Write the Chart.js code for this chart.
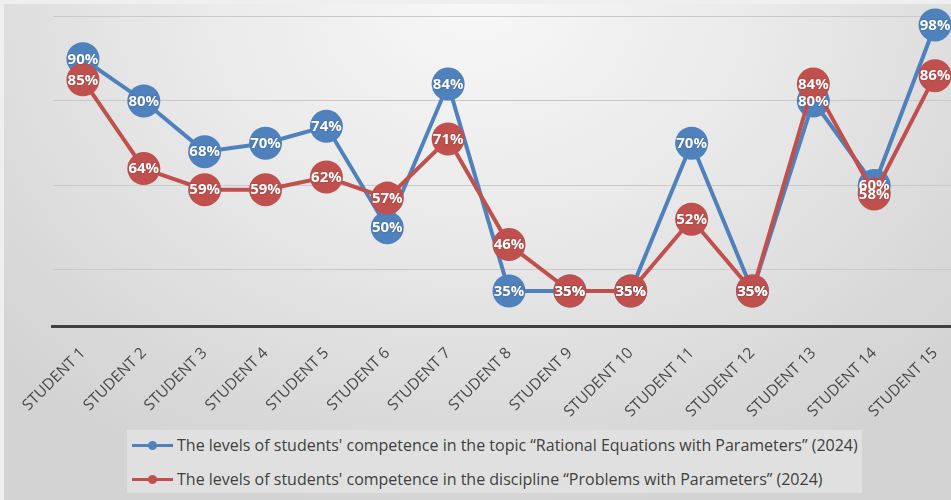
<!DOCTYPE html>
<html>
<head>
<meta charset="utf-8">
<script src="https://cdn.jsdelivr.net/npm/chart.js@4.4.1/dist/chart.umd.min.js"></script>
<style>
  html, body { margin:0; padding:0; }
  body { width:951px; height:500px; overflow:hidden; position:relative; background:#efefef; }
  #bg { position:absolute; left:4px; top:4px; width:947px; height:496px;
        background: radial-gradient(ellipse 70% 105% at 50% 0%, #f7f7f7 0%, #e9e9e9 45%, #dadada 80%, #d3d3d3 100%); }
  #wrap { position:absolute; left:0; top:0; width:982px; height:500px; }
  #legend { position:absolute; left:127px; top:430px; width:735px; height:63px; background:#e0e0e0;
            font-family:"Open Sans", sans-serif; font-size:16px; color:#404040; }
  .item { position:absolute; left:5px; height:20px; display:flex; align-items:center; white-space:nowrap; }
  .sw { position:relative; width:41px; height:20px; margin-right:4px; }
  .sw .ln { position:absolute; left:0; top:8.5px; width:41px; height:3px; }
  .sw .dt { position:absolute; left:16px; top:5.5px; width:9px; height:9px; border-radius:50%; }
</style>
</head>
<body>
<div id="bg"></div>
<div id="wrap"><canvas id="c"></canvas></div>
<div id="legend"></div>
<script>
const categories = ["STUDENT 1","STUDENT 2","STUDENT 3","STUDENT 4","STUDENT 5","STUDENT 6","STUDENT 7","STUDENT 8","STUDENT 9","STUDENT 10","STUDENT 11","STUDENT 12","STUDENT 13","STUDENT 14","STUDENT 15"];
const topicLevels = [90, 80, 68, 70, 74, 50, 84, 35, 35, 35, 70, 35, 80, 60, 98];
const disciplineLevels = [85, 64, 59, 59, 62, 57, 71, 46, 35, 35, 52, 35, 84, 58, 86];
const seriesNames = [
  "The levels of students' competence in the topic \u201cRational Equations with Parameters\u201d (2024)",
  "The levels of students' competence in the discipline \u201cProblems with Parameters\u201d (2024)"
];
const yGridTicks = [40, 60, 80, 100];

const BLUE = '#4f81bd', RED = '#c0504d';

const pointLabels = {
  id: 'pointLabels',
  afterDatasetsDraw(chart) {
    const ctx = chart.ctx;
    ctx.save();
    ctx.font = 'bold 15px "Open Sans"';
    ctx.fillStyle = '#ffffff';
    ctx.textAlign = 'center';
    ctx.textBaseline = 'middle';
    ctx.shadowColor = 'rgba(0,0,0,0.35)';
    ctx.shadowBlur = 1.5;
    chart.data.datasets.forEach((ds, i) => {
      const meta = chart.getDatasetMeta(i);
      meta.data.forEach((pt, j) => {
        ctx.fillText(ds.data[j] + '%', pt.x, pt.y + 0.5);
      });
    });
    ctx.restore();
  }
};

const chart = new Chart(document.getElementById('c'), {
  type: 'line',
  data: {
    labels: categories,
    datasets: [
      { label: seriesNames[0], data: topicLevels, borderColor: BLUE, backgroundColor: BLUE,
        pointBackgroundColor: BLUE, pointBorderColor: BLUE, borderWidth: 4, pointRadius: 16.5,
        pointBorderWidth: 0, tension: 0, clip: false, order: 1 },
      { label: seriesNames[1], data: disciplineLevels, borderColor: RED, backgroundColor: RED,
        pointBackgroundColor: RED, pointBorderColor: RED, borderWidth: 4, pointRadius: 16.5,
        pointBorderWidth: 0, tension: 0, clip: false, order: 0 }
    ]
  },
  options: {
    responsive: true,
    maintainAspectRatio: false,
    animation: false,
    events: [],
    layout: { padding: { left: 52.5, right: 0, top: 16.5, bottom: 61 } },
    plugins: { legend: { display: false }, tooltip: { enabled: false } },
    scales: {
      x: {
        offset: true,
        grid: { display: true, color: 'transparent', drawTicks: false },
        border: { display: true, color: '#404040', width: 3 },
        ticks: { minRotation: 45, maxRotation: 45, padding: 18, autoSkip: false,
                 color: '#4a4a4a', font: { family: '"Open Sans"', size: 15.5 } }
      },
      y: {
        min: 26.7, max: 100,
        afterBuildTicks: (axis) => { axis.ticks = yGridTicks.map(v => ({ value: v })); },
        grid: { color: '#c9c9c9', lineWidth: 1, drawTicks: false },
        border: { display: false },
        ticks: { display: false }
      }
    }
  },
  plugins: [pointLabels]
});

// HTML legend built from the chart's datasets
const legendEl = document.getElementById('legend');
const rowTops = [5, 39];
chart.data.datasets.forEach((ds, i) => {
  const item = document.createElement('div');
  item.className = 'item';
  item.style.top = rowTops[i] + 'px';
  const sw = document.createElement('span');
  sw.className = 'sw';
  const ln = document.createElement('span'); ln.className = 'ln'; ln.style.background = ds.borderColor;
  const dt = document.createElement('span'); dt.className = 'dt'; dt.style.background = ds.borderColor;
  sw.appendChild(ln); sw.appendChild(dt);
  const tx = document.createElement('span');
  tx.textContent = ds.label;
  item.appendChild(sw); item.appendChild(tx);
  legendEl.appendChild(item);
});
</script>
</body>
</html>
